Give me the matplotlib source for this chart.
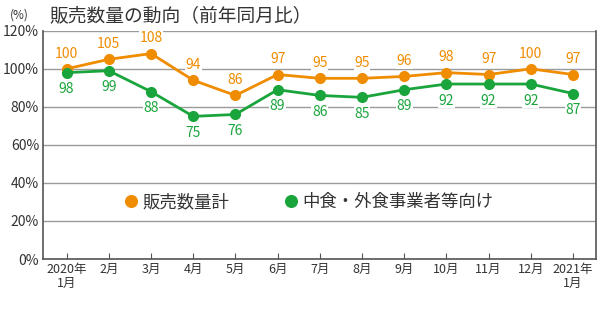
import matplotlib
matplotlib.use("Agg")
import matplotlib.pyplot as plt

plt.rcParams['font.family'] = ['Noto Sans CJK JP', 'DejaVu Sans']

months = ["2020年\n1月", "2月", "3月", "4月", "5月", "6月", "7月", "8月",
          "9月", "10月", "11月", "12月", "2021年\n1月"]
total_sales = [100, 105, 108, 94, 86, 97, 95, 95, 96, 98, 97, 100, 97]
food_service = [98, 99, 88, 75, 76, 89, 86, 85, 89, 92, 92, 92, 87]
y_ticks = [0, 20, 40, 60, 80, 100, 120]

orange = "#F08C00"
green = "#1AA53C"
text_c = "#333333"
grid_c = "#9a9a9a"

fig = plt.figure(figsize=(6, 3.24), dpi=100)
ax = fig.add_axes([0.072, 0.2006, 0.921, 0.7044])

x = list(range(len(months)))
ax.plot(x, total_sales, color=orange, lw=2, marker='o', ms=7, zorder=4, label="販売数量計")
ax.plot(x, food_service, color=green, lw=2, marker='o', ms=7, zorder=4, label="中食・外食事業者等向け")

for xi, v in zip(x, total_sales):
    ax.annotate(str(v), (xi, v), xytext=(0, 11), textcoords='offset points',
                ha='center', va='center', fontsize=10, color=orange, zorder=3,
                bbox=dict(boxstyle='square,pad=0.05', fc='white', ec='none'))
for xi, v in zip(x, food_service):
    ax.annotate(str(v), (xi, v), xytext=(0, -12), textcoords='offset points',
                ha='center', va='center', fontsize=10, color=green, zorder=3,
                bbox=dict(boxstyle='square,pad=0.05', fc='white', ec='none'))

ax.set_xlim(-0.555, 12.54)
ax.set_ylim(0, 120)
ax.set_yticks(y_ticks)
ax.set_yticklabels([f"{t}%" for t in y_ticks], fontsize=10, color=text_c)
ax.set_xticks(x)
ax.set_xticklabels(months, fontsize=9, color=text_c, linespacing=1.1)
ax.tick_params(axis='x', direction='in', length=4, color='#555555', pad=3)
ax.tick_params(axis='y', length=0, pad=3)
ax.yaxis.grid(True, color=grid_c, lw=1)
ax.set_axisbelow(True)
for side in ['left', 'right', 'bottom']:
    ax.spines[side].set_color('#555555')
    ax.spines[side].set_linewidth(1.2)
ax.spines['top'].set_visible(False)

leg = ax.legend(loc='center left', bbox_to_anchor=(0.12, 0.25), ncol=2, frameon=False,
                handlelength=0.7, handletextpad=0.3, columnspacing=3.2, fontsize=12.5,
                markerscale=1.2)
for h in leg.get_lines():
    h.set_linestyle('none')
for t in leg.get_texts():
    t.set_color(text_c)

fig.text(0.017, 0.953, "(%)", fontsize=8.5, color=text_c, va='center')
fig.text(0.083, 0.953, "販売数量の動向（前年同月比）", fontsize=13.5, color=text_c, va='center')

fig.savefig("out.png", dpi=100)
